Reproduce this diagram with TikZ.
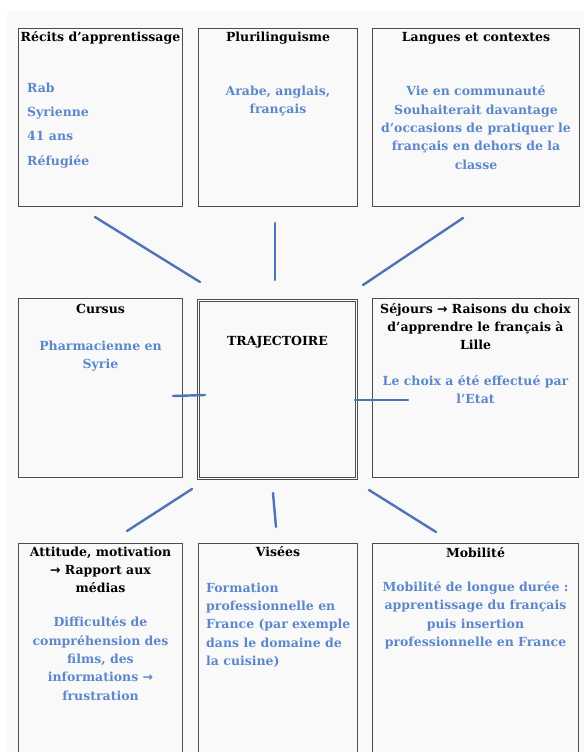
\documentclass[tikz,border=0pt]{standalone}
\usepackage{fontspec}
\setmainfont{DejaVu Serif}
\newfontfamily\flechefont{DejaVu Sans}
\definecolor{fond}{RGB}{249,249,250}
\definecolor{trait}{RGB}{78,116,184}
\definecolor{texte}{RGB}{92,136,202}
\newcommand{\boxfont}{\bfseries\fontsize{12.5}{18.3}\selectfont}
\newcommand{\fleche}{{\flechefont\bfseries →}}

\begin{document}
\begin{tikzpicture}[x=1pt,y=-1pt,
  cadre/.style={draw=black!70,line width=1.2pt,inner sep=0pt,outer sep=0pt},
  titre/.style={font=\boxfont,align=center,inner sep=0pt,anchor=base},
  detail/.style={titre,text=texte},
  lien/.style={trait,line width=2.4pt,line cap=round},
]
\useasboundingbox (0,0) rectangle (584,752);
\clip (0,0) rectangle (584,752);
\fill[white] (0,0) rectangle (584,752);
\fill[fond] (7,11) rectangle (584,752);

% ---------- top row ----------
\node[cadre,minimum width=164pt,minimum height=178pt] (recits) at (100.5,117.5) {};
\node[cadre,minimum width=159pt,minimum height=178pt] (pluri) at (278,117.5) {};
\node[cadre,minimum width=207pt,minimum height=178pt] (langues) at (476,117.5) {};

% multi-line texts: base = last line
\node[titre] (recitsT) at (100.5,42) {Récits d’apprentissage};
\node[detail,anchor=base west,align=left,font=\bfseries\fontsize{12.5}{24.3}\selectfont]
  (recitsD) at (27,165) {Rab\\Syrienne\\41 ans\\Réfugiée};
\node[titre] (pluriT) at (278,42) {Plurilinguisme};
\node[detail] (pluriD) at (278,113.8) {Arabe, anglais,\\français};
\node[titre] (languesT) at (476,42) {Langues et contextes};
\node[detail] (languesD) at (476,169)
  {Vie en communauté\\Souhaiterait davantage\\d’occasions de pratiquer le\\français en dehors de la\\classe};

% ---------- middle row ----------
\node[cadre,minimum width=164pt,minimum height=179pt] (cursus) at (100.5,388) {};
\node[cadre,line width=0.9pt,double,double distance=1.6pt,minimum width=158pt,minimum height=178pt]
  (traj) at (277.5,389.5) {};
\node[cadre,minimum width=206pt,minimum height=179pt] (sejours) at (475.5,388) {};

\node[titre] (cursusT) at (100.5,313) {Cursus};
\node[detail] (cursusD) at (100.5,368.3) {Pharmacienne en\\Syrie};
\node[titre] (trajT) at (277.5,345) {TRAJECTOIRE};
\node[titre] (sejoursT) at (475.5,349.6)
  {Séjours \fleche{} Raisons du choix\\d’apprendre le français à\\Lille};
\node[detail] (sejoursD) at (475.5,403.5) {Le choix a été effectué par\\l’Etat};

% ---------- bottom row ----------
\node[cadre,minimum width=164pt,minimum height=226pt] (attitude) at (100.5,656.5) {};
\node[cadre,minimum width=159pt,minimum height=226pt] (visees) at (278,656.5) {};
\node[cadre,minimum width=206pt,minimum height=226pt] (mobilite) at (475.5,656.5) {};

\node[titre] (attitudeT) at (100.5,592.6) {Attitude, motivation\\\fleche{} Rapport aux\\médias};
\node[detail] (attitudeD) at (100.5,700)
  {Difficultés de\\compréhension des\\films, des\\informations \fleche\\frustration};
\node[titre] (viseesT) at (278,556) {Visées};
\node[detail,anchor=base west,align=left] (viseesD) at (206,665.5)
  {Formation\\professionnelle en\\France (par exemple\\dans le domaine de\\la cuisine)};
\node[titre] (mobiliteT) at (475.5,557) {Mobilité};
\node[detail] (mobiliteD) at (475.5,646.5)
  {Mobilité de longue durée :\\apprentissage du français\\puis insertion\\professionnelle en France};

% ---------- links to the centre ----------
\coordinate (a1) at (95,217);  \coordinate (a2) at (200,282);
\coordinate (b1) at (275,223); \coordinate (b2) at (275,280);
\coordinate (c1) at (463,218); \coordinate (c2) at (363,285);
\coordinate (d1) at (173,396); \coordinate (d2) at (205,395);
\coordinate (e1) at (355,400); \coordinate (e2) at (408,400);
\coordinate (f1) at (192,489); \coordinate (f2) at (127,531);
\coordinate (g1) at (273,493); \coordinate (g2) at (276,527);
\coordinate (h1) at (369,490); \coordinate (h2) at (436,532);
\draw[lien] (a1) -- (a2);
\draw[lien] (b1) -- (b2);
\draw[lien] (c1) -- (c2);
\draw[lien] (d1) -- (d2);
\draw[lien] (e1) -- (e2);
\draw[lien] (f1) -- (f2);
\draw[lien] (g1) -- (g2);
\draw[lien] (h1) -- (h2);

\end{tikzpicture}
\end{document}
